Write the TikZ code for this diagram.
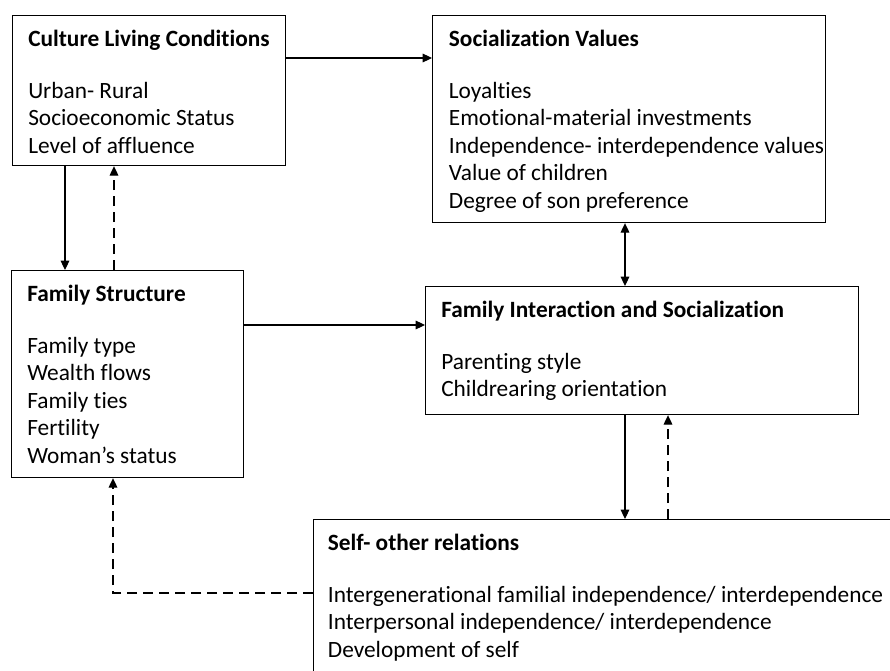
\documentclass[tikz,border=0pt]{standalone}
\usepackage{fontspec}
\setmainfont{Carlito}[Ligatures=NoCommon]
\usepackage{tikz}
\usetikzlibrary{arrows.meta}
\usetikzlibrary{calc}
\tikzset{box/.style = {draw, line width=0.9pt, anchor=north west, inner sep=0pt}}
\tikzset{txt/.style = {anchor=north west, inner sep=0pt, align=left, font=\fontsize{17.5}{20.6}\selectfont}}
\tikzset{arr/.style = {line width=0.8pt, -{Triangle[length=7pt,width=6.5pt]}}}
\tikzset{back/.style = {arr, dash pattern=on 7.5pt off 4.5pt}}

\begin{document}
\begin{tikzpicture}[x=0.75pt, y=-0.75pt]
	\clip (0,0) rectangle (890,671) ;
	\fill[white] (0,0) rectangle (890,671) ;

	% the five blocks
	\node[box, minimum width=204.75pt, minimum height=112.5pt] (culture) at (12,15) {} ;
	\node[box, minimum width=294.75pt, minimum height=155.25pt] (values) at (432,15) {} ;
	\node[box, minimum width=174pt, minimum height=155.25pt] (structure) at (11,270) {} ;
	\node[box, minimum width=324.75pt, minimum height=96pt] (interaction) at (425,286) {} ;
	\node[box, minimum width=440pt, minimum height=127.5pt] (self) at (313,519) {} ;

	% their contents
	\node[txt] (culture text) at ([xshift=12pt, yshift=-11pt]culture.north west)
		{\textbf{Culture Living Conditions}\\[18.5pt]
		Urban- Rural\\ Socioeconomic Status\\ Level of affluence} ;
	\node[txt] (values text) at ([xshift=12.5pt, yshift=-11pt]values.north west)
		{\textbf{Socialization Values}\\[18.5pt]
		Loyalties\\ Emotional-material investments\\
		Independence- interdependence values\\ Value of children\\
		Degree of son preference} ;
	\node[txt] (structure text) at ([xshift=12pt, yshift=-11pt]structure.north west)
		{\textbf{Family Structure}\\[18.5pt]
		Family type\\ Wealth flows\\ Family ties\\ Fertility\\ Woman's status} ;
	\node[txt] (interaction text) at ([xshift=12pt, yshift=-11pt]interaction.north west)
		{\textbf{Family Interaction and Socialization}\\[18.5pt]
		Parenting style\\ Childrearing orientation} ;
	\node[txt] (self text) at ([xshift=11pt, yshift=-11pt]self.north west)
		{\textbf{Self- other relations}\\[18.5pt]
		Intergenerational familial independence/ interdependence\\
		Interpersonal independence/ interdependence\\ Development of self} ;

	% connectors
	\coordinate (c out) at ([yshift=-32.25pt]culture.north east) ;
	\draw[arr] (c out) -- (values.west |- c out) ;

	\coordinate (c down) at ([xshift=39.75pt]culture.south west) ;
	\coordinate (c up) at ([xshift=76.5pt]culture.south west) ;
	\draw[arr] (c down) -- (c down |- structure.north) ;
	\draw[back] (c up |- structure.north) -- (c up) ;

	\coordinate (s out) at ([yshift=-41.25pt]structure.north east) ;
	\draw[arr] (s out) -- (interaction.west |- s out) ;

	\coordinate (v mid) at ([xshift=144.75pt]values.south west) ;
	\draw[line width=0.8pt, {Triangle[length=7pt,width=6.5pt]}-{Triangle[length=7pt,width=6.5pt]}]
		(v mid) -- (v mid |- interaction.north) ;

	\coordinate (i down) at ([xshift=150pt]interaction.south west) ;
	\coordinate (i up) at ([xshift=182.25pt]interaction.south west) ;
	\draw[arr] (i down) -- (i down |- self.north) ;
	\draw[back] (i up |- self.north) -- (i up) ;

	\coordinate (self out) at ([yshift=-55.5pt]self.north west) ;
	\coordinate (s up) at ([xshift=76.5pt]structure.south west) ;
	\draw[back] (self out) -- (s up |- self out) -- (s up) ;
\end{tikzpicture}
\end{document}
